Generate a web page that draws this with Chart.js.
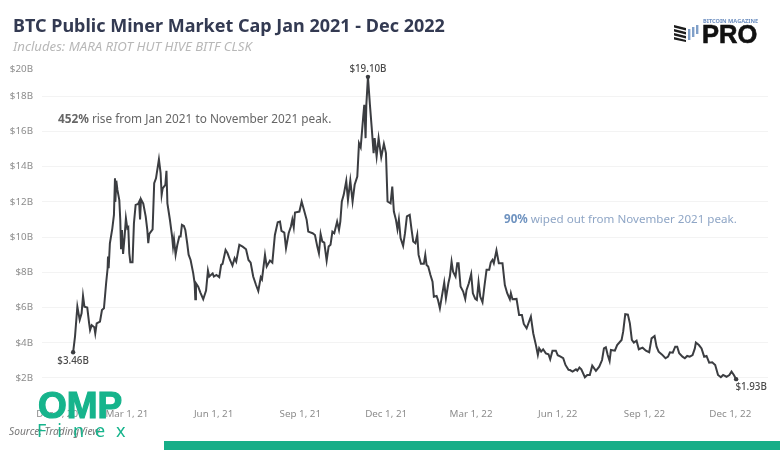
<!DOCTYPE html>
<html>
<head>
<meta charset="utf-8">
<title>BTC Public Miner Market Cap</title>
<script src="https://cdn.jsdelivr.net/npm/chart.js@4"></script>
<style>
    html, body { margin: 0; padding: 0; background: #fff; }
    #pagina { position: relative; width: 780px; height: 450px; overflow: hidden; font-family: "Noto Sans", sans-serif; }
    #pagina div { position: absolute; white-space: nowrap; }
    canvas { position: absolute; left: 0; top: 0; }
    #titulo { left: 13px; top: 13px; font-size: 18px; font-weight: 700; color: #333a52; }
    #subtitulo { left: 13px; top: 37px; font-size: 13.2px; font-style: italic; color: #b8b8b8; }
    #nota-alta { left: 58px; top: 110px; font-size: 11.8px; color: #666; }
    #nota-queda { left: 504px; top: 211px; font-size: 11.6px; color: #8fa6c6; }
    #fonte { left: 9px; top: 424px; font-size: 10.2px; font-style: italic; color: #777; }
    #marca-omp { left: 38px; top: 385px; font-family: "Liberation Sans", sans-serif; font-size: 37px; font-weight: 700; color: #16b48c; transform: scaleX(1.0); transform-origin: left; -webkit-text-stroke: 1.2px #16b48c; }
    #marca-finex { left: 37px; top: 418px; font-size: 18px; letter-spacing: 11px; color: #16b48c; }
    #faixa { left: 164px; top: 441px; width: 616px; height: 9px; background: #17ae88; }
    #pro { left: 702px; top: 20px; font-family: "Liberation Sans", sans-serif; font-size: 25.5px; font-weight: 700; color: #111; -webkit-text-stroke: 0.6px #111; }
    #revista { left: 703px; top: 17px; font-size: 5.6px; font-weight: 700; color: #6d8fc0; }
    #icone { left: 674px; top: 24px; }
</style>
</head>
<body>
<div id="pagina">
    <canvas id="grafico" width="780" height="450"></canvas>
    <div id="titulo">BTC Public Miner Market Cap Jan 2021 - Dec 2022</div>
    <div id="subtitulo">Includes: MARA RIOT HUT HIVE BITF CLSK</div>
    <div id="nota-alta"><b>452%</b> rise from Jan 2021 to November 2021 peak.</div>
    <div id="nota-queda"><b style="color:#6f93c0">90%</b> wiped out from November 2021 peak.</div>
    <div id="fonte">Source: TradingView</div>
    <div id="marca-omp">OMP</div>
    <div id="marca-finex">Finex</div>
    <div id="faixa"></div>
    <div id="revista">BITCOIN MAGAZINE</div>
    <div id="pro">PRO</div>
    <div id="icone">
        <svg width="26" height="18" viewBox="0 0 26 18">
            <path d="M0 1 L12 4 V6.5 L0 3.5Z M0 5 L12 8 V10.5 L0 7.5Z M0 9 L12 12 V14.5 L0 11.5Z M0 13 L12 16 V18 L0 15.5Z" fill="#1c1c1c"/>
            <path d="M14 5 h2.4 v11 h-2.4Z M18 3 h2.4 v10 h-2.4Z M22 1 h2.4 v9 h-2.4Z" fill="#7f9fc8"/>
        </svg>
    </div>
</div>

<script>
// days since Dec 1, 2020
const dias = [
    33, 35, 37.5, 40, 42, 43.5, 45, 48, 50, 51, 52.7, 55.5, 56.5, 58, 61.5, 63.6, 65.7, 68, 69.6, 70, 70.7,
    72, 74.6, 76.3, 77.4, 77.8, 78.8, 80, 82, 83, 83.8, 84.8, 86, 87.6, 89, 90.5, 91.5, 92.6, 93.7, 96, 97.5,
    99.3, 102, 103, 104, 105, 107.4, 110, 111.7, 112.7, 113.8, 117.3, 119, 120.9, 124, 125.8, 126.9, 128, 130.8,
    132, 133, 135.7, 138, 139, 140, 141.7, 143.5, 145.6, 147, 148.4, 150.5, 152, 154, 155.5, 157.6, 160.4,
    161.9, 162.6, 163.3, 165.7, 168, 171, 174, 176, 177.4, 181, 182.3, 185, 188, 190, 191.5, 194.7, 196.8,
    199.4, 202, 204.3, 206, 209.3, 212.8, 216.4, 219, 221.3, 224, 227, 229.4, 232, 233.3, 236.5, 238.3, 241.8,
    244.3, 247, 250, 252.4, 254, 257, 258.8, 261.6, 264, 265.5, 267, 268.3, 273, 275.4, 277.8, 280.7, 282.4,
    287, 289.5, 292, 293.7, 295.5, 297.3, 299.4, 301.9, 304, 306, 308, 310, 313, 315, 316.4, 318, 320, 322.7,
    324.5, 327, 329.4, 331.6, 334.4, 336.2, 338, 340.7, 341.8, 343.2, 344, 345.7, 347.8, 349.6, 351.7, 352.8,
    354.9, 357, 359.8, 362.6, 364.8, 366.5, 369.7, 371.5, 373.2, 375.4, 377, 378.5, 380.3, 383, 385, 387, 390,
    392, 393.7, 396, 398, 399.4, 401.9, 405, 406.5, 407.9, 409.6, 412, 414.2, 415.6, 418.5, 420, 422, 423.8,
    426.6, 428.4, 431, 432.6, 434.4, 436, 438.6, 440.4, 441.8, 443.9, 446.7, 448.9, 450.3, 452.7, 455.2, 457,
    459.5, 461.2, 463, 464.8, 467.2, 469.4, 471.5, 474.3, 476, 477.8, 479.2, 482, 484.5, 488.4, 490.9, 493.4,
    496.2, 497.3, 499, 503.3, 506, 509, 511, 514, 518.5, 521, 523.8, 525.9, 527.3, 529.4, 531.5, 534.4, 537.2,
    539, 541.4, 545, 547, 550, 552.8, 555.2, 558.4,
    560, 562.7, 566.3, 567.7, 570, 572, 575.8, 578.3, 581, 583.6, 587.5, 591, 594, 596, 598, 600, 602, 603.4,
    607.6, 610, 614.7, 616.4, 618.6, 621.4, 623.5, 625.6, 627.7, 630.6, 633, 637, 640.5, 644, 646.5, 649.7,
    651.8, 654, 657.4, 661.3, 664, 666, 669, 671.6, 673.7, 675.8, 679.3, 681.8, 684.3, 687, 690, 692.4, 693.5,
    696.7, 699.5, 702.3, 704.8, 707.6, 710.8, 714, 717, 720, 722.4, 726, 729, 731.3, 733.8, 736.2
];

// market cap, $B
const valores = [
    3.46, 4.35, 6.05, 5.3, 5.67, 6.66, 6.05, 6.0, 5.1, 4.72, 5.0, 4.88, 4.53, 5.1, 5.2, 5.86, 5.96, 7.38, 8.23, 8.89, 8.23,
    9.65, 10.5, 11.26, 13.34, 12.0, 13.2, 12.68, 12.1, 11.0, 9.36, 10.4, 9.04, 10.03, 11.07, 10.5, 10.56, 9.08, 8.57, 8.57, 10.78,
    11.83, 11.88, 12.0, 11.0, 12.15, 11.9, 11.16, 10.4, 9.65, 10.18, 10.44, 13.06, 13.34, 14.42, 13.63, 12.4, 12.77, 12.96,
    13.76, 11.92, 10.97, 10.03, 9.46, 9.88, 9.0, 9.55, 10.03, 10.03, 10.69, 10.63, 10.41, 9.65, 9.0, 8.7, 7.94,
    7.38, 6.47, 7.38, 7.19, 6.85, 6.47, 6.96, 8.1, 7.76, 7.94, 7.76, 7.85, 7.72, 8.42, 8.48, 9.27, 9.08,
    8.7, 8.38, 8.8, 8.61, 9.56, 9.46, 9.31, 8.7, 8.55, 7.76, 7.28, 6.94, 7.72, 7.6, 8.99, 8.33, 8.67,
    8.55, 10.12, 10.84, 10.88, 10.35, 10.26, 9.37, 10.22, 10.6, 11.0, 10.56, 11.39, 11.45, 12.02, 11.55, 10.98, 10.31,
    10.22, 10.12, 9.46, 9.08, 10.18, 9.75, 9.69, 8.67, 9.46, 9.56, 10.31, 10.22, 10.88, 10.41, 10.88, 12.02, 12.4, 13.19,
    12.11, 13.21, 12.02, 12.97, 13.44, 15.33, 15.1, 16.85, 17.51, 15.62, 17.51, 19.1, 17.51, 16.28, 14.77, 15.62,
    14.58, 15.62, 14.54, 15.3, 14.77, 12.02, 11.92, 12.87, 11.45, 10.98, 10.45, 11.0, 9.94, 9.5, 10.22, 11.17, 11.26,
    10.41, 9.75, 9.65, 10.13, 8.99, 8.48, 8.48, 8.99, 8.42, 8.33, 7.85, 7.47, 6.62, 6.66, 6.43, 5.96, 6.53,
    7.42, 6.53, 7.38, 7.76, 8.61, 8.04, 7.76, 8.52, 8.52, 7.19, 6.91, 6.49, 7.0, 7.38, 7.91, 6.81,
    6.49, 6.43, 7.44, 6.62, 6.3, 7.28, 8.14, 8.14, 8.57, 8.71, 8.52, 9.24, 8.52, 8.52, 7.28, 6.81,
    6.47, 6.81, 6.47, 6.49, 5.58, 5.58, 5.07, 4.82, 5.49, 4.54, 3.88, 3.31, 3.69, 3.5, 3.63, 3.4, 3.35,
    3.06, 3.55, 3.55, 3.29, 3.21, 3.12, 2.74, 2.46,
    2.45, 2.36, 2.49, 2.41, 2.59, 2.49, 2.04, 2.17, 2.17, 2.7, 2.41, 2.64, 3.02, 3.68, 3.74, 3.3, 2.96, 3.59,
    3.55, 3.87, 4.16, 4.63, 5.62, 5.6, 5.1, 4.16, 4.01, 4.12, 3.63, 3.72, 3.55, 3.46, 4.25, 4.38,
    3.78, 3.49, 3.34, 3.12, 3.21, 3.46, 3.44, 3.78, 3.78, 3.4, 3.21, 3.12, 3.25, 3.21, 3.3, 3.68, 4.01,
    3.87, 3.68, 3.21, 3.25, 2.87, 2.89, 2.74, 2.17, 2.04, 2.17, 2.07, 2.17, 2.36, 2.17, 1.93
];

// the first x label and the top y label sit clamped inside the plot in the original
const xTicks = [16, 90, 182, 274, 365, 455, 547, 639, 730];
const xRotulos = ["Dec 1, 20", "Mar 1, 21", "Jun 1, 21", "Sep 1, 21", "Dec 1, 21", "Mar 1, 22", "Jun 1, 22", "Sep 1, 22", "Dec 1, 22"];
const yTicks = [2, 4, 6, 8, 10, 12, 14, 16, 18, 19.55];
const yRotulos = ["$2B", "$4B", "$6B", "$8B", "$10B", "$12B", "$14B", "$16B", "$18B", "$20B"];

const indicesMarcados = [0, valores.indexOf(19.1), valores.length - 1];
const rotulosPontos = ["$3.46B", "$19.10B", "$1.93B"];
const deslocamentos = [[0, 9], [0, -8], [15, 8]];

const rotulosDosPontos = {
    id: "rotulosDosPontos",
    afterDatasetsDraw(chart) {
        const ctx = chart.ctx;
        const meta = chart.getDatasetMeta(0);
        ctx.save();
        ctx.font = "500 9.8px 'Noto Sans'";
        ctx.fillStyle = "#4a4a4a";
        ctx.textAlign = "center";
        ctx.textBaseline = "middle";
        indicesMarcados.forEach((indice, i) => {
            const ponto = meta.data[indice];
            ctx.fillText(rotulosPontos[i], ponto.x + deslocamentos[i][0], ponto.y + deslocamentos[i][1]);
        });
        ctx.restore();
    }
};

new Chart(document.querySelector("#grafico"), {
    type: "line",
    plugins: [rotulosDosPontos],
    data: {
        datasets: [{
            data: dias.map((dia, i) => ({ x: dia, y: valores[i] })),
            borderColor: "#3b3d41",
            borderWidth: 2,
            tension: 0,
            pointBackgroundColor: "#3b3d41",
            pointBorderWidth: 0,
            pointRadius: ctx => indicesMarcados.includes(ctx.dataIndex) ? 2.2 : 0
        }]
    },
    options: {
        responsive: false,
        animation: false,
        layout: { padding: { top: 61, right: 12, bottom: 28.5, left: 0 } },
        plugins: { legend: { display: false }, tooltip: { enabled: false } },
        scales: {
            x: {
                type: "linear",
                min: 0,
                max: 770,
                grid: { display: false },
                border: { display: false },
                afterFit: escala => { escala.height = 40; },
                afterBuildTicks: escala => { escala.ticks = xTicks.map(value => ({ value })); },
                ticks: {
                    autoSkip: false,
                    maxRotation: 0,
                    padding: 19,
                    color: "#8c8c8c",
                    font: { family: "Noto Sans", size: 9.8 },
                    callback: (valor, i) => xRotulos[i]
                }
            },
            y: {
                min: 1.8,
                max: 20,
                border: { display: false },
                grid: {
                    drawTicks: false,
                    color: ctx => ctx.tick && ctx.tick.value < 19 ? "#f3f3f3" : "transparent"
                },
                afterFit: escala => { escala.width = 42; },
                afterBuildTicks: escala => { escala.ticks = yTicks.map(value => ({ value })); },
                ticks: {
                    padding: 9,
                    color: "#8c8c8c",
                    font: { family: "Noto Sans", size: 9.8 },
                    callback: (valor, i) => yRotulos[i]
                }
            }
        }
    }
});
</script>
</body>
</html>
